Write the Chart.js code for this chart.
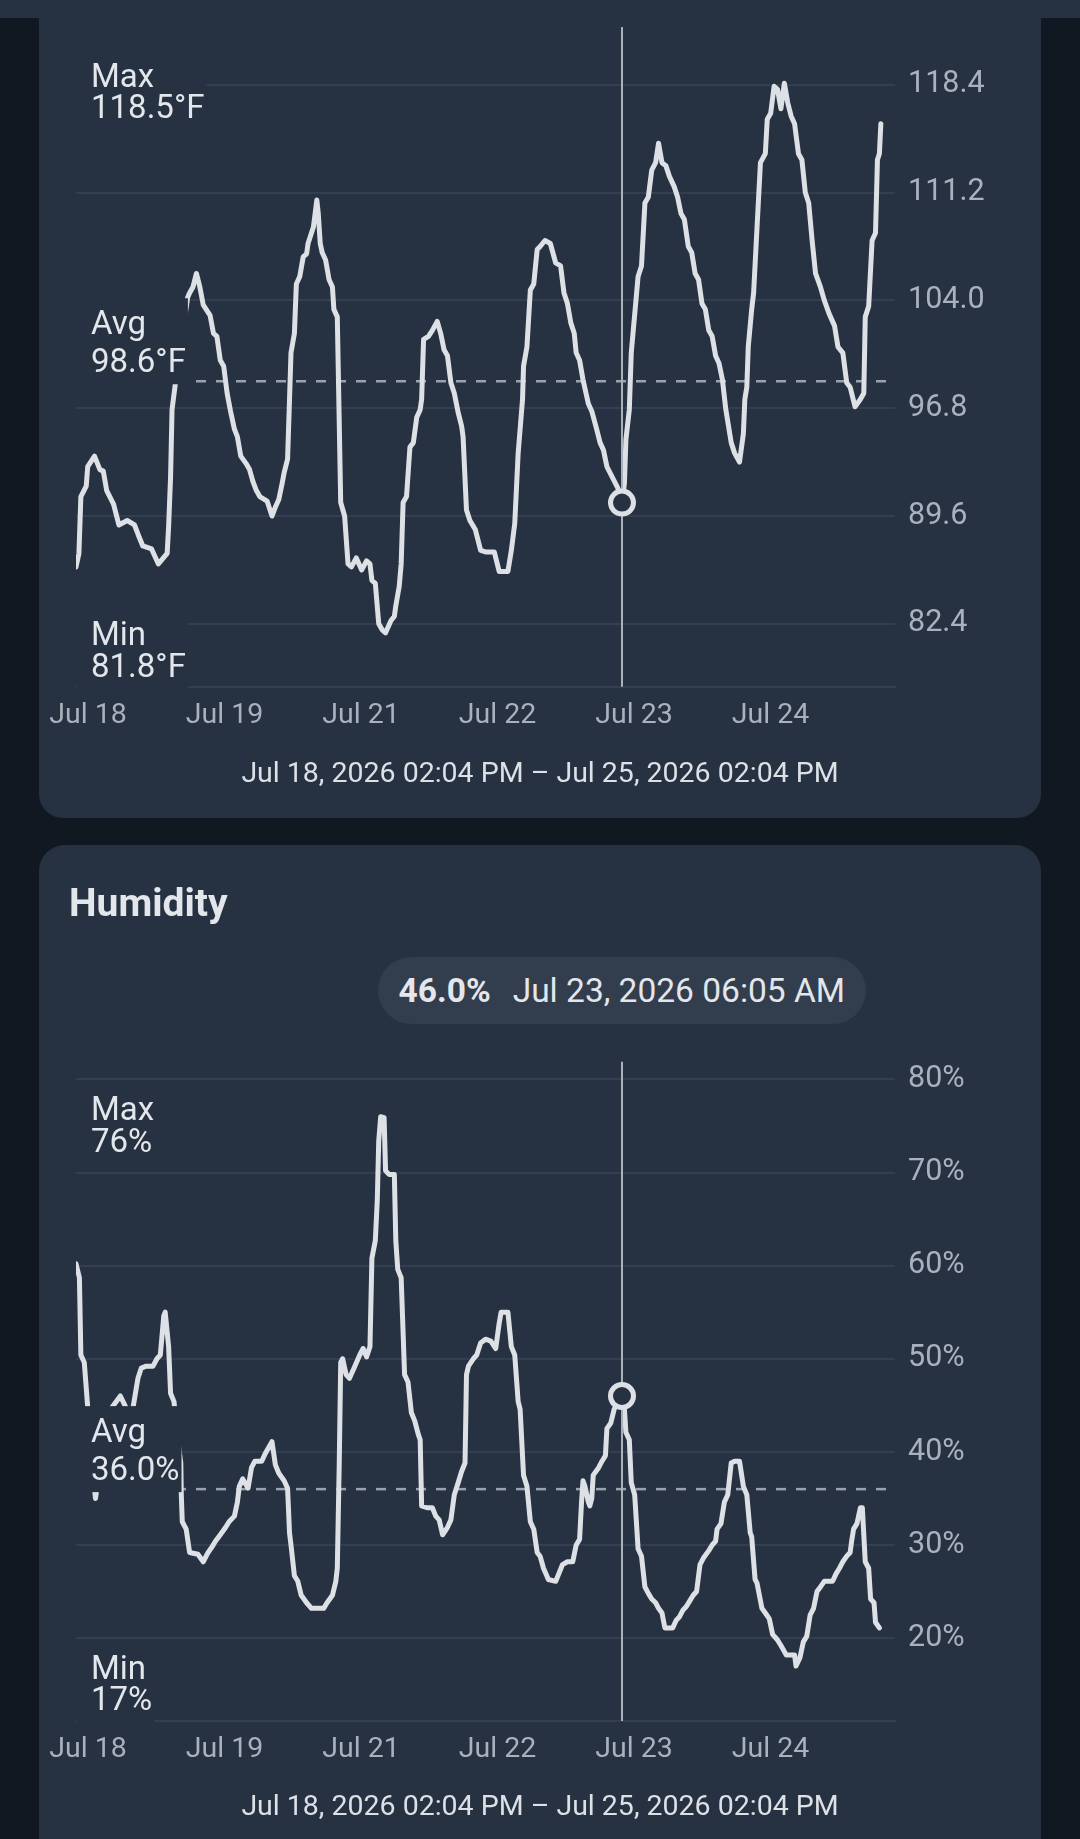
<!DOCTYPE html>
<html><head><meta charset="utf-8">
<script src="https://cdn.jsdelivr.net/npm/chart.js@4.4.1/dist/chart.umd.min.js"></script>
<style>
html,body{margin:0;padding:0;background:#111822;width:1080px;height:1839px;overflow:hidden;font-family:Roboto,sans-serif;}
.band{position:absolute;left:0;top:0;width:1080px;height:18px;background:#263142;}
.card{position:absolute;left:39px;width:1002px;background:#263142;}
#card1{top:-40px;height:858px;border-radius:0 0 24px 24px;}
#card2{top:845px;height:1100px;border-radius:26px 26px 0 0;}
canvas{position:absolute;left:39px;}
#c1{top:0;} #c2{top:845px;}
.footer{position:absolute;left:39px;width:1002px;text-align:center;font-size:28.5px;line-height:28.5px;color:#dde1e6;white-space:nowrap;}
.title{position:absolute;left:69px;top:884px;font-size:39px;line-height:39px;font-weight:700;color:#e3e6ea;}
.pill{position:absolute;top:957px;height:67px;border-radius:34px;background:#323d4e;display:flex;align-items:center;padding:0 21px;box-sizing:border-box;font-size:33.5px;line-height:33.5px;color:#e3e6ea;white-space:nowrap;}
.pill b{font-weight:700;margin-right:22px;}
</style></head>
<body>
<div class="card" id="card1"></div>
<div class="band"></div>
<div class="card" id="card2"></div>
<canvas id="c1" width="1002" height="818"></canvas>
<canvas id="c2" width="1002" height="994"></canvas>
<div class="footer" id="f1" style="top:759px"></div>
<div class="title" id="t2"></div>
<div class="pill" id="pill"><b id="pv"></b><span id="pd"></span></div>
<div class="footer" id="f2" style="top:1792px"></div>
<script>
// ---- data (hours since Jul 18 02:04 PM, value) ----
const tempReadings = [[0,86.2],[0.6,87.1],[1.0,90.9],[2.1,91.6],[2.4,92.9],[3.8,93.6],[4.9,92.7],[5.6,92.6],[6.3,91.3],[7.7,90.4],[8.8,89.0],[10.5,89.3],[12.0,89.0],[12.7,88.4],[13.7,87.6],[15.5,87.4],[16.9,86.4],[18.7,87.1],[19.0,88.9],[19.4,92.2],[19.7,96.7],[20.4,98.5],[21.3,101.0],[22.6,103.5],[22.9,104.2],[23.3,104.5],[24.0,104.9],[24.7,105.8],[25.4,104.9],[26.1,103.7],[27.5,103.0],[28.2,101.8],[28.9,101.6],[29.6,100.0],[30.3,99.6],[31.0,97.8],[31.7,96.6],[32.5,95.4],[33.1,94.9],[33.8,93.6],[34.9,93.1],[35.6,92.7],[36.3,91.9],[37.0,91.3],[37.7,90.9],[39.2,90.6],[40.2,89.6],[40.9,90.2],[41.6,90.7],[42.3,91.8],[42.7,92.5],[43.4,93.4],[43.8,97.4],[44.1,100.5],[44.8,101.8],[45.2,105.1],[45.9,105.6],[46.6,106.9],[47.3,107.1],[47.6,107.8],[48.3,108.5],[48.7,108.9],[49.4,110.7],[49.7,109.8],[50.1,107.8],[50.5,107.2],[51.2,106.7],[51.9,105.4],[52.6,104.9],[52.9,103.4],[53.6,102.9],[54.3,90.5],[55.1,89.6],[55.8,86.4],[56.5,86.2],[57.5,86.8],[58.6,86.0],[59.6,86.6],[60.3,86.4],[60.7,85.3],[61.4,85.1],[62.1,82.4],[62.8,82.0],[63.5,81.8],[64.6,82.6],[65.3,82.9],[65.6,83.6],[66.3,84.9],[66.7,86.4],[67.1,90.5],[67.8,90.9],[68.5,94.2],[69.2,94.5],[69.9,96.2],[70.6,96.7],[70.9,97.4],[71.3,101.4],[72.3,101.6],[73.1,102.0],[74.1,102.6],[74.8,101.8],[75.5,100.7],[76.2,100.3],[76.9,98.5],[77.6,97.8],[78.4,96.5],[79.1,95.6],[79.4,94.9],[80.1,90.0],[80.8,89.3],[81.9,88.7],[83.0,87.3],[84.0,87.2],[85.8,87.2],[86.8,85.9],[88.6,85.9],[89.3,87.3],[90.0,89.1],[90.7,93.8],[91.6,97.4],[91.8,99.6],[92.5,100.9],[93.2,104.7],[93.9,105.1],[94.6,107.4],[95.2,107.6],[96.2,108.0],[97.3,107.8],[98.4,106.5],[99.4,106.3],[100.1,104.5],[100.8,103.8],[101.5,102.5],[102.2,101.8],[102.6,100.5],[103.3,100.0],[104.0,98.7],[105.1,97.1],[105.8,96.6],[106.8,95.4],[107.5,94.5],[108.2,94.0],[108.9,92.9],[110.0,92.2],[111.1,91.5],[112.0,90.5],[112.5,91.8],[112.8,94.7],[113.5,96.7],[113.9,100.5],[115.3,105.6],[116.0,106.3],[116.7,110.5],[117.4,110.9],[118.1,112.7],[118.9,113.2],[119.5,114.5],[120.2,113.2],[121.0,113.0],[121.7,112.3],[122.7,111.6],[123.4,110.9],[124.1,109.8],[124.8,109.4],[125.6,107.6],[126.3,107.2],[127.0,105.8],[127.7,105.4],[128.4,103.8],[129.1,103.4],[129.8,102.0],[130.5,101.6],[131.2,100.3],[131.9,99.8],[132.6,98.7],[133.3,96.7],[134.4,94.5],[135.1,93.8],[136.1,93.2],[136.9,95.1],[137.2,97.4],[137.6,98.2],[137.9,100.9],[138.6,103.4],[139.0,104.5],[139.7,108.9],[140.4,113.2],[141.4,113.8],[141.8,116.1],[142.5,116.5],[143.2,118.3],[143.9,118.1],[144.6,116.8],[145.3,118.5],[146.0,117.2],[146.7,116.3],[147.4,115.8],[148.2,113.8],[148.9,113.4],[149.6,111.2],[150.3,110.5],[151.0,108.0],[151.7,105.8],[152.7,104.9],[153.5,104.0],[154.5,103.1],[155.6,102.3],[156.3,100.9],[157.3,100.5],[158.1,98.5],[158.8,98.2],[159.8,96.9],[160.9,97.4],[161.6,97.8],[161.9,102.9],[162.6,103.6],[163.3,108.0],[164.0,108.5],[164.4,113.4],[164.8,113.8],[165.1,115.8]];

const humReadings = [[0,60.2],[0.7,58.7],[1.0,50.4],[1.7,49.6],[2.4,44.8],[3.3,38.5],[4.0,35.0],[4.9,38.5],[6.2,43.0],[7.4,44.8],[9.1,46.0],[10.2,44.8],[11.3,43.5],[12.7,47.9],[13.4,49.0],[14.4,49.2],[15.8,49.2],[16.6,50.0],[17.3,50.4],[18.0,54.6],[18.3,55.0],[19.0,51.3],[19.4,46.3],[20.1,45.4],[20.7,42.0],[21.5,38.8],[21.6,35.4],[21.8,32.5],[22.6,31.7],[23.3,29.2],[25.0,29.0],[26.1,28.2],[27.1,29.2],[27.9,29.8],[28.6,30.4],[29.6,31.1],[30.7,31.9],[31.4,32.5],[32.5,33.1],[33.1,34.6],[33.5,36.3],[34.2,37.1],[35.3,36.1],[36.0,38.3],[36.7,39.0],[38.1,39.0],[38.8,39.8],[40.2,41.1],[40.9,38.6],[41.6,37.7],[42.7,36.9],[43.4,36.1],[43.8,31.3],[44.1,30.0],[44.8,26.7],[45.5,26.1],[46.2,24.6],[47.3,23.8],[48.3,23.2],[50.8,23.2],[51.5,23.8],[52.6,24.6],[53.3,26.1],[53.6,27.5],[54.0,38.8],[54.3,49.6],[54.7,50.0],[55.4,48.3],[56.1,47.9],[57.2,49.2],[58.2,50.4],[58.9,51.1],[59.6,50.2],[60.3,51.3],[60.7,60.8],[61.4,62.7],[61.8,67.0],[62.1,73.4],[62.5,76.0],[63.2,75.9],[63.5,70.2],[64.2,69.8],[65.3,69.8],[65.6,62.7],[66.0,59.6],[66.7,58.7],[67.4,48.3],[68.1,47.5],[68.8,44.2],[69.5,43.3],[70.2,41.9],[70.6,41.3],[70.9,34.2],[72.0,34.0],[73.1,34.0],[73.8,33.1],[74.5,32.7],[75.2,31.1],[76.2,31.9],[76.9,32.7],[77.6,35.4],[78.4,36.7],[79.1,37.9],[79.8,38.8],[80.1,48.3],[80.5,49.2],[81.5,50.0],[82.2,50.4],[83.0,51.7],[84.0,52.1],[85.1,51.9],[86.1,51.1],[86.8,53.8],[87.2,55.0],[88.6,55.0],[89.3,51.3],[90.0,50.4],[90.7,45.4],[91.1,44.6],[91.8,37.5],[92.5,36.3],[93.2,32.5],[93.9,31.7],[94.6,29.2],[95.2,28.8],[95.9,27.5],[96.9,26.3],[98.4,26.1],[99.8,27.9],[100.8,28.2],[101.9,28.2],[102.6,30.0],[103.3,30.6],[103.7,34.6],[104.0,36.9],[104.4,36.3],[105.1,34.6],[105.4,34.2],[105.8,35.0],[106.1,37.5],[107.2,38.3],[107.9,39.0],[108.6,39.6],[108.9,42.5],[109.7,43.1],[110.4,44.6],[112.0,46.0],[112.5,44.6],[112.8,42.1],[113.5,41.3],[113.9,36.7],[114.6,35.4],[115.3,29.6],[116.0,28.8],[116.7,25.5],[117.4,24.8],[118.1,24.2],[118.9,23.8],[119.5,23.2],[120.2,22.7],[120.8,21.1],[122.4,21.1],[123.1,21.9],[123.8,22.3],[124.5,23.0],[125.2,23.4],[125.9,24.0],[126.6,24.6],[127.3,25.0],[128.0,27.9],[128.7,28.6],[129.8,29.4],[130.5,30.0],[131.2,30.4],[131.5,31.7],[132.3,32.3],[133.0,34.6],[133.7,35.4],[134.4,38.8],[135.1,39.0],[136.1,39.0],[136.9,36.3],[137.6,35.4],[138.3,31.3],[138.6,30.9],[139.3,26.3],[139.7,25.9],[140.7,23.2],[141.4,22.7],[142.2,22.1],[142.9,20.4],[143.9,19.8],[144.6,19.2],[145.7,18.2],[147.4,18.2],[147.7,17.0],[148.5,17.9],[149.2,19.6],[149.9,20.2],[150.6,22.5],[151.3,23.2],[152.0,25.0],[152.7,25.5],[153.5,26.1],[155.2,26.1],[155.9,26.9],[156.6,27.5],[157.3,28.2],[158.1,28.8],[158.8,29.2],[159.1,30.4],[159.5,31.7],[160.2,32.3],[160.9,34.0],[161.3,34.0],[161.9,28.2],[162.6,27.5],[163.0,24.2],[163.7,23.8],[164.0,21.7],[164.8,21.1]];

const xRangeHours = [0, 168];
const xTickHours = [0, 28, 56, 84, 112, 140];
const xTickLabels = ['Jul 18', 'Jul 19', 'Jul 21', 'Jul 22', 'Jul 23', 'Jul 24'];
const tempAxisRange = [78.2, 122.26];
const tempTicks = [82.4, 89.6, 96.8, 104.0, 111.2, 118.4];
const humAxisRange = [11.1, 81.9];
const humTicks = [20, 30, 40, 50, 60, 70, 80];
const tempStats = [118.5, 98.6, 81.8];   // max, avg, min
const humStats = [76, 36.0, 17];         // max, avg, min
const hoverHour = 112;
const hoverTemp = 90.5;
const hoverHum = 46.0;
const hoverLabel = 'Jul 23, 2026 06:05 AM';
const rangeLabel = 'Jul 18, 2026 02:04 PM \u2013 Jul 25, 2026 02:04 PM';
const humTitle = 'Humidity';

// ---- styles ----
const CARD = '#263142', GRID = '#333f50', LINE = '#dde1e6', TICK = '#a9b1bc', TEXT = '#e3e6ea';

const statPlugin = {
  id: 'stats',
  beforeDatasetsDraw(chart, args, o) {
    const {ctx, chartArea: a, scales: {y}} = chart;
    const ay = y.getPixelForValue(o.stats[1]);
    ctx.save();
    ctx.strokeStyle = '#9aa2ad'; ctx.lineWidth = 2.5; ctx.setLineDash([10, 10]);
    ctx.beginPath(); ctx.moveTo(a.left, ay); ctx.lineTo(a.right, ay); ctx.stroke();
    ctx.restore();
  },
  afterDatasetsDraw(chart, args, o) {
    const {ctx, chartArea: a, scales: {x, y}} = chart;
    ctx.save();
    const hx = x.getPixelForValue(o.hoverX);
    ctx.strokeStyle = '#aab1ba'; ctx.lineWidth = 2;
    ctx.beginPath(); ctx.moveTo(hx, a.top); ctx.lineTo(hx, a.bottom); ctx.stroke();
    const hy = y.getPixelForValue(o.hoverY);
    ctx.beginPath(); ctx.arc(hx, hy, 11.5, 0, Math.PI * 2);
    ctx.fillStyle = CARD; ctx.fill(); ctx.lineWidth = 5; ctx.strokeStyle = LINE; ctx.stroke();
    ctx.font = '33px Roboto';
    ctx.textBaseline = 'alphabetic'; ctx.textAlign = 'left';
    const [mx, av, mn] = o.stats;
    const boxes = [
      {lines: ['Max', o.fmt(mx, 0)], top: y.getPixelForValue(mx) - 33.5, h: 80, b: [37, 68.5]},
      {lines: ['Avg', o.fmt(av, 1)], top: y.getPixelForValue(av) + 3 - 86, h: 86, b: [36, 74]},
      {lines: ['Min', o.fmt(mn, 0)], top: y.getPixelForValue(mn) - 24.5, h: 84, b: [37, 68.5]}
    ];
    boxes.forEach(bx => {
      const w = Math.max(...bx.lines.map(t => ctx.measureText(t).width));
      ctx.fillStyle = CARD;
      ctx.fillRect(a.left, bx.top, 15 + w + 2, bx.h);
      ctx.fillStyle = TEXT;
      bx.lines.forEach((t, i) => ctx.fillText(t, a.left + 15, bx.top + bx.b[i]));
    });
    ctx.restore();
  }
};

function makeChart(id, readings, range, ticks, tickFmt, padTop, xAxisH, pluginOpts) {
  return new Chart(document.getElementById(id), {
    type: 'line',
    data: { datasets: [{
      data: readings.map(r => ({x: r[0], y: r[1]})),
      borderColor: LINE, borderWidth: 5, pointRadius: 0, tension: 0,
      borderJoinStyle: 'round', borderCapStyle: 'round', fill: false
    }]},
    plugins: [statPlugin],
    options: {
      responsive: false, animation: false, devicePixelRatio: 1, events: [],
      layout: {padding: {left: 37, top: padTop, right: 0, bottom: 0}},
      plugins: {legend: {display: false}, tooltip: {enabled: false}, stats: pluginOpts},
      scales: {
        x: {
          type: 'linear', min: xRangeHours[0], max: xRangeHours[1],
          afterBuildTicks: s => { s.ticks = xTickHours.map(v => ({value: v})); },
          afterFit: s => { s.height = xAxisH; s.paddingLeft = 0; s.paddingRight = 0; },
          grid: {display: false, drawTicks: false},
          border: {display: true, color: GRID, width: 2},
          ticks: {autoSkip: false, maxRotation: 0, padding: 12, labelOffset: 12, color: TICK,
                  font: {family: 'Roboto', size: 28.5}, callback: (v, i) => xTickLabels[i]}
        },
        y: {
          position: 'right', min: range[0], max: range[1],
          afterBuildTicks: s => { s.ticks = ticks.map(v => ({value: v})); },
          afterFit: s => { s.width = 146; s.paddingTop = 0; s.paddingBottom = 0; },
          grid: {color: GRID, lineWidth: 2, drawTicks: false},
          border: {display: false},
          ticks: {padding: 13, color: TICK, font: {family: 'Roboto', size: 30.5}, callback: v => tickFmt(v)}
        }
      }
    }
  });
}

makeChart('c1', tempReadings, tempAxisRange, tempTicks, v => v.toFixed(1), 27, 131.3,
  {stats: tempStats, hoverX: hoverHour, hoverY: hoverTemp, fmt: (v) => v.toFixed(1) + '\u00B0F'});
const ch2 = makeChart('c2', humReadings, humAxisRange, humTicks, v => v + '%', 216.7, 118,
  {stats: humStats, hoverX: hoverHour, hoverY: hoverHum, fmt: (v, d) => v.toFixed(d) + '%'});

document.getElementById('f1').textContent = rangeLabel;
document.getElementById('f2').textContent = rangeLabel;
document.getElementById('t2').textContent = humTitle;
document.getElementById('pv').textContent = hoverHum.toFixed(1) + '%';
document.getElementById('pd').textContent = hoverLabel;
const pill = document.getElementById('pill');
const px = 39 + ch2.scales.x.getPixelForValue(hoverHour);
pill.style.left = (px - pill.offsetWidth / 2) + 'px';
</script>
</body></html>
